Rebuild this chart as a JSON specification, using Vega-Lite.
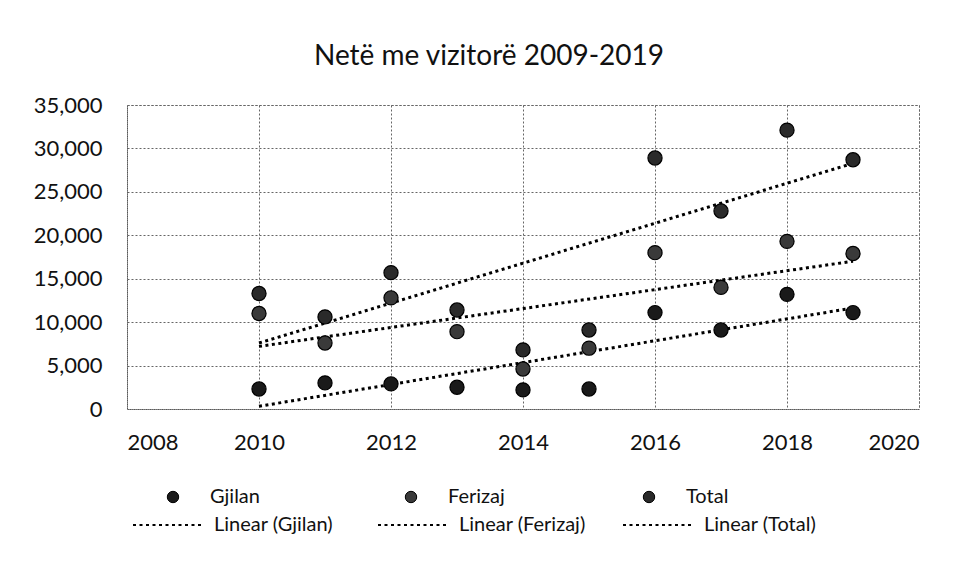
{
  "$schema": "https://vega.github.io/schema/vega-lite/v6.json",
  "width": 792,
  "height": 304,
  "autosize": {"type": "none"},
  "padding": {"left": 127, "top": 105, "right": 44, "bottom": 163},
  "background": "white",
  "title": {
    "text": "Netë me vizitorë 2009-2019",
    "font": "Lato",
    "fontSize": 28,
    "fontWeight": "normal",
    "color": "#111",
    "anchor": "middle",
    "dx": -34,
    "offset": 23
  },
  "data": {
    "values": [
      {"year": 2010, "series": "Gjilan", "value": 2300},
      {"year": 2011, "series": "Gjilan", "value": 3000},
      {"year": 2012, "series": "Gjilan", "value": 2900},
      {"year": 2013, "series": "Gjilan", "value": 2500},
      {"year": 2014, "series": "Gjilan", "value": 2200},
      {"year": 2015, "series": "Gjilan", "value": 2300},
      {"year": 2016, "series": "Gjilan", "value": 11100},
      {"year": 2017, "series": "Gjilan", "value": 9100},
      {"year": 2018, "series": "Gjilan", "value": 13200},
      {"year": 2019, "series": "Gjilan", "value": 11100},
      {"year": 2010, "series": "Ferizaj", "value": 11000},
      {"year": 2011, "series": "Ferizaj", "value": 7600},
      {"year": 2012, "series": "Ferizaj", "value": 12800},
      {"year": 2013, "series": "Ferizaj", "value": 8900},
      {"year": 2014, "series": "Ferizaj", "value": 4600},
      {"year": 2015, "series": "Ferizaj", "value": 7000},
      {"year": 2016, "series": "Ferizaj", "value": 18000},
      {"year": 2017, "series": "Ferizaj", "value": 14000},
      {"year": 2018, "series": "Ferizaj", "value": 19300},
      {"year": 2019, "series": "Ferizaj", "value": 17900},
      {"year": 2010, "series": "Total", "value": 13300},
      {"year": 2011, "series": "Total", "value": 10600},
      {"year": 2012, "series": "Total", "value": 15700},
      {"year": 2013, "series": "Total", "value": 11400},
      {"year": 2014, "series": "Total", "value": 6800},
      {"year": 2015, "series": "Total", "value": 9100},
      {"year": 2016, "series": "Total", "value": 28900},
      {"year": 2017, "series": "Total", "value": 22800},
      {"year": 2018, "series": "Total", "value": 32100},
      {"year": 2019, "series": "Total", "value": 28700}
    ]
  },
  "encoding": {
    "x": {
      "field": "year",
      "type": "quantitative",
      "scale": {"domain": [2008, 2020], "nice": false, "zero": false},
      "axis": {"values": [2008, 2010, 2012, 2014, 2016, 2018, 2020], "format": "d", "title": null, "labelPadding": 23}
    },
    "y": {
      "field": "value",
      "type": "quantitative",
      "scale": {"domain": [0, 35000], "nice": false},
      "axis": {"values": [0, 5000, 10000, 15000, 20000, 25000, 30000, 35000], "format": ",d", "title": null, "labelPadding": 25}
    }
  },
  "layer": [
    {
      "transform": [{"regression": "value", "on": "year", "groupby": ["series"]}],
      "mark": {"type": "line", "stroke": "#000", "strokeWidth": 3, "strokeCap": "butt"},
      "encoding": {
        "strokeDash": {
          "field": "series",
          "type": "nominal",
          "sort": ["Gjilan", "Ferizaj", "Total"],
          "scale": {"range": [[3, 3.5], [3, 3.5], [3, 3.5]]},
          "legend": {
            "orient": "none",
            "legendX": 5,
            "legendY": 384,
            "direction": "horizontal",
            "gridAlign": "all",
            "title": null,
            "padding": 0,
            "symbolType": "stroke",
            "symbolSize": 4900,
            "symbolStrokeWidth": 2,
            "symbolStrokeColor": "#000",
            "symbolDash": [2, 2.5],
            "labelOffset": 10,
            "columnPadding": 33,
            "labelFontSize": 20,
            "labelFont": "Lato",
            "labelColor": "#111",
            "labelExpr": "'Linear (' + datum.label + ')'"
          }
        }
      }
    },
    {
      "mark": {"type": "point", "filled": true, "size": 200, "stroke": "#000", "strokeWidth": 1.2, "opacity": 1},
      "encoding": {
        "color": {
          "field": "series",
          "type": "nominal",
          "scale": {"domain": ["Gjilan", "Ferizaj", "Total"], "range": ["#1a1a1a", "#3a3a3a", "#2a2a2a"]},
          "legend": {
            "orient": "none",
            "legendX": 36,
            "legendY": 382,
            "direction": "horizontal",
            "gridAlign": "all",
            "title": null,
            "padding": 0,
            "symbolType": "circle",
            "symbolSize": 130,
            "symbolStrokeColor": "#000",
            "symbolStrokeWidth": 1,
            "symbolOpacity": 1,
            "labelOffset": 27,
            "columnPadding": 134,
            "labelFontSize": 20,
            "labelFont": "Lato",
            "labelColor": "#111"
          }
        }
      }
    }
  ],
  "config": {
    "view": {"stroke": "#555", "strokeWidth": 1, "strokeDash": [2, 2]},
    "axis": {
      "domain": false,
      "ticks": false,
      "grid": true,
      "gridColor": "#666",
      "gridDash": [2, 2],
      "gridWidth": 1,
      "labelFont": "Lato",
      "labelFontSize": 22,
      "labelColor": "#111"
    }
  }
}
